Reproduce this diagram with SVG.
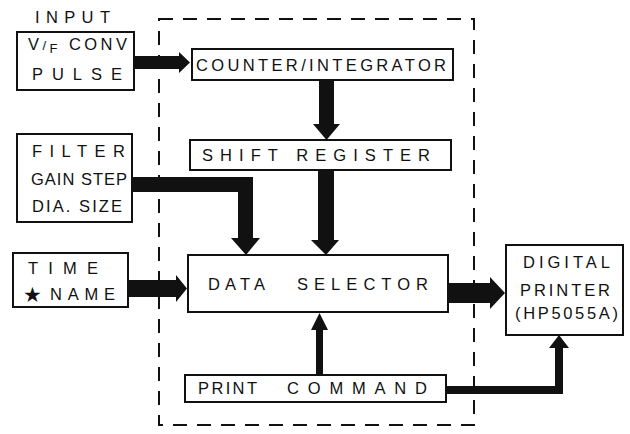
<svg xmlns="http://www.w3.org/2000/svg" width="630" height="434" viewBox="0 0 630 434">
<style>
.box{fill:#fff;stroke:#111;stroke-width:2}
.t{font-family:"Liberation Sans","DejaVu Sans",Arial,sans-serif;font-size:16.5px;fill:#111}
.arr{fill:#111}
.dash{fill:none;stroke:#111;stroke-width:2;stroke-dasharray:14 10}
</style>
<rect width="630" height="434" fill="#fff"/>
<rect class="dash" x="159" y="19" width="315" height="406"/>
<text class="t" x="35" y="23" textLength="75" lengthAdjust="spacing">INPUT</text>
<g id="input">
<rect class="box" x="17" y="32" width="117" height="58"/>
<text class="t" x="28" y="50" textLength="99" lengthAdjust="spacing">V<tspan style="font-size:13px">/</tspan><tspan style="font-size:13px" dy="3">F</tspan><tspan dy="-3"> CONV</tspan></text>
<text class="t" x="32" y="80" textLength="90" lengthAdjust="spacing">PULSE</text>
</g>
<g id="counter">
<rect class="box" x="192" y="49" width="261" height="31"/>
<text class="t" x="196" y="71" textLength="250" lengthAdjust="spacing">COUNTER/INTEGRATOR</text>
</g>
<g id="shift">
<rect class="box" x="190" y="140" width="261" height="30"/>
<text class="t" x="202" y="161" textLength="228" lengthAdjust="spacing">SHIFT REGISTER</text>
</g>
<g id="filter">
<rect class="box" x="17" y="134" width="115" height="88"/>
<text class="t" x="32" y="157" textLength="93" lengthAdjust="spacing">FILTER</text>
<text class="t" x="31" y="185" textLength="96" lengthAdjust="spacing">GAIN STEP</text>
<text class="t" x="32" y="212" textLength="90" lengthAdjust="spacing">DIA. SIZE</text>
</g>
<g id="time">
<rect class="box" x="13" y="253" width="115" height="54"/>
<text class="t" x="28" y="274" textLength="70" lengthAdjust="spacing">TIME</text>
<text class="t" x="23" y="302" style="font-size:21px">★</text>
<text class="t" x="50" y="300" textLength="65" lengthAdjust="spacing">NAME</text>
</g>
<g id="selector">
<rect class="box" x="188" y="255" width="260" height="57"/>
<text class="t" x="208" y="290" textLength="57" lengthAdjust="spacing">DATA</text>
<text class="t" x="297" y="290" textLength="131" lengthAdjust="spacing">SELECTOR</text>
</g>
<g id="printer">
<rect class="box" x="506" y="245" width="117" height="90"/>
<text class="t" x="523" y="268" textLength="87" lengthAdjust="spacing">DIGITAL</text>
<text class="t" x="520" y="296" textLength="90" lengthAdjust="spacing">PRINTER</text>
<text class="t" x="515" y="319" textLength="103" lengthAdjust="spacing">(HP5055A)</text>
</g>
<g id="command">
<rect class="box" x="185" y="375" width="261" height="27"/>
<text class="t" x="198" y="394" textLength="59" lengthAdjust="spacing">PRINT</text>
<text class="t" x="287" y="394" textLength="140" lengthAdjust="spacing">COMMAND</text>
</g>
<g id="connectors">
<polygon class="arr" points="135,56 179,56 179,52 190,62.5 179,73 179,69 135,69"/>
<polygon class="arr" points="319,81 334,81 334,124 340,124 326.5,140 313,124 319,124"/>
<polygon class="arr" points="318,171 334,171 334,240 339,240 326,255 311,240 318,240"/>
<polygon class="arr" points="133,177 253,177 253,238 260,238 246,255 231,238 238,238 238,192 133,192"/>
<polygon class="arr" points="129,280 176,280 176,275 187,288.5 176,302 176,297 129,297"/>
<polygon class="arr" points="449,283 490,283 490,277 505,293 490,309 490,303 449,303"/>
<polygon class="arr" points="316,374 323,374 323,330 328,330 319.5,313 311,330 316,330"/>
<polygon class="arr" points="447,386 555,386 555,348 549,348 559,335 569,348 563,348 563,394 447,394"/>
</g>
</svg>
